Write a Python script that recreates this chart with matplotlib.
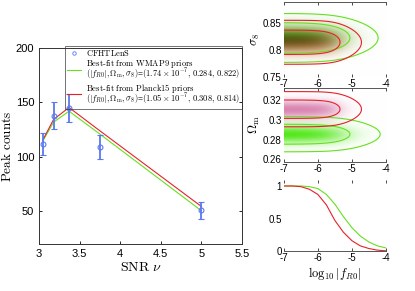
import numpy as np
import matplotlib
matplotlib.use("Agg")
import matplotlib.pyplot as plt
from matplotlib.lines import Line2D

plt.rcParams['mathtext.fontset'] = 'cm'
plt.rcParams['font.family'] = ['Liberation Sans', 'DejaVu Sans']

# --- peak counts (left panel) ---
snr_obs = [3.05, 3.18, 3.37, 3.75, 5.0]
peaks_obs = [112, 138, 145, 109, 51]
peaks_err = [10, 12, 13, 11, 7.5]

snr_model = [3.05, 3.18, 3.37, 3.75, 5.0]
peaks_wmap9 = [115, 132, 142, 121, 50.7]
peaks_planck15 = [116, 134.5, 145.4, 124, 54.6]

# --- 2D constraints ---
# per series: centre, outer half width, inner half width, outer nose, inner nose
s8_wmap9 = dict(centre=0.8225, half_out=0.0453, half_in=0.0284, nose_out=-4.23, nose_in=-5.06)
s8_planck = dict(centre=0.8145, half_out=0.0407, half_in=0.0225, nose_out=-4.72, nose_in=-5.35)
om_wmap9 = dict(centre=0.2854, half_out=0.0180, half_in=0.0102, nose_out=-4.17, nose_in=-5.06)
om_planck = dict(centre=0.3110, half_out=0.0180, half_in=0.0094, nose_out=-4.72, nose_in=-5.35)

# --- 1D marginal of log10|fR0| ---
logf = [-7, -6.75, -6.5, -6.25, -6, -5.75, -5.5, -5.25, -5, -4.75, -4.5, -4.25, -4]
like_wmap9 = [1.0, 1.0, 1.0, 0.99, 0.96, 0.87, 0.72, 0.53, 0.36, 0.23, 0.14, 0.08, 0.05]
like_planck = [1.0, 1.0, 0.99, 0.95, 0.87, 0.71, 0.47, 0.29, 0.16, 0.08, 0.04, 0.015, 0.005]

GREEN = '#66e020'
RED = '#e8202a'
BLUE = '#5a78f0'


def posterior(p, X, Y):
    # gaussian in y times a smooth cut-off in x, tuned to the read contour sizes
    sig = p['half_out'] / 2.45
    c_out = np.exp(-p['half_out'] ** 2 / (2 * sig ** 2))
    c_in = np.exp(-p['half_in'] ** 2 / (2 * sig ** 2))
    k_out, k_in = np.log(1 / c_out - 1), np.log(1 / c_in - 1)
    s = (p['nose_out'] - p['nose_in']) / (k_out - k_in)
    x0 = p['nose_in'] - k_in * s
    P = np.exp(-(Y - p['centre']) ** 2 / (2 * sig ** 2)) / (1 + np.exp((X - x0) / s))
    return P, [c_out, c_in]


def panel(ax, pg, pr, ylim, red_rgb, green_rgb):
    x = np.linspace(-7, -4, 300)
    y = np.linspace(ylim[0], ylim[1], 200)
    X, Y = np.meshgrid(x, y)
    Pg, lev_g = posterior(pg, X, Y)
    Pr, lev_r = posterior(pr, X, Y)
    img = np.ones(X.shape + (3,))
    for P, rgb, amax in ((Pg, green_rgb, 0.9), (Pr, red_rgb, 0.8)):
        a = (amax * P ** 1.3)[..., None]
        img = img * (1 - a * (1 - np.array(rgb)))
    ax.imshow(img, extent=(-7, -4, ylim[0], ylim[1]), origin='lower',
              aspect='auto', interpolation='bilinear')
    ax.contour(X, Y, Pg, levels=lev_g, colors=GREEN, linewidths=0.8)
    ax.contour(X, Y, Pr, levels=lev_r, colors=RED, linewidths=0.8)
    ax.set_xlim(-7, -4)
    ax.set_ylim(*ylim)


fig = plt.figure(figsize=(4.15, 2.91), dpi=100)

# left panel
ax = fig.add_axes([0.094, 0.161, 0.489, 0.674])
ax.errorbar(snr_obs, peaks_obs, yerr=peaks_err, fmt='o', mfc='none', mec=BLUE,
            ms=3.5, mew=0.8, ecolor=BLUE, elinewidth=1.3, capsize=2, capthick=0.8,
            zorder=4)
lw9, = ax.plot(snr_model, peaks_wmap9, color=GREEN, lw=0.8)
lp15, = ax.plot(snr_model, peaks_planck15, color=RED, lw=0.8)
ax.set_xlim(3, 5.5)
ax.set_ylim(20, 200)
ax.set_xticks([3, 3.5, 4, 4.5, 5, 5.5])
ax.set_xticklabels(['3', '3.5', '4', '4.5', '5', '5.5'])
ax.set_yticks([50, 100, 150, 200])
ax.tick_params(direction='in', length=2.5, width=0.6, labelsize=8, top=False, right=True)
for sp in ax.spines.values():
    sp.set_linewidth(0.7)
    sp.set_color('#333333')
ax.set_xlabel(r'$\mathrm{SNR}\ \nu$', fontsize=10, labelpad=1)
ax.set_ylabel(r'$\mathrm{Peak\ counts}$', fontsize=9.5, labelpad=1)

obs_handle = Line2D([], [], ls='none', marker='o', ms=2.5, mfc='none', mec=BLUE, mew=0.6)
leg = ax.legend(
    [obs_handle, lw9, lp15],
    [r'$\mathrm{CFHTLenS}$',
     '$\\mathrm{Best\\text{-}fit\\ from\\ WMAP9\\ priors}$\n'
     r'$(|f_{R0}|,\Omega_{\rm m},\sigma_8)$=$(1.74\times10^{-7},\,0.284,\,0.822)$',
     '$\\mathrm{Best\\text{-}fit\\ from\\ Planck15\\ priors}$\n'
     r'$(|f_{R0}|,\Omega_{\rm m},\sigma_8)$=$(1.05\times10^{-7},\,0.308,\,0.814)$'],
    loc='upper right', fontsize=6.1, frameon=True, fancybox=False,
    borderaxespad=0, handlelength=1.7, handletextpad=0.5,
    labelspacing=0.0, borderpad=0.25, bbox_to_anchor=(1.0, 1.01))
leg.get_frame().set_edgecolor('#333333')
leg.get_frame().set_linewidth(0.6)
leg.get_frame().set_facecolor('none')
for t in leg.get_texts():
    t.set_linespacing(0.7)

# right panels
ax1 = fig.add_axes([0.684, 0.735, 0.246, 0.258])
panel(ax1, s8_wmap9, s8_planck, (0.75, 0.889), (0.95, 0.28, 0.22), (0.25, 0.75, 0.05))
ax1.set_yticks([0.75, 0.8, 0.85])
ax1.set_yticklabels(['0.75', '0.8', '0.85'])
ax1.set_ylabel(r'$\sigma_8$', fontsize=9, labelpad=1)

ax2 = fig.add_axes([0.684, 0.444, 0.246, 0.254])
panel(ax2, om_wmap9, om_planck, (0.2572, 0.3328), (0.82, 0.40, 0.62), (0.25, 0.9, 0.0))
ax2.set_yticks([0.26, 0.28, 0.3, 0.32])
ax2.set_yticklabels(['0.26', '0.28', '0.3', '0.32'])
ax2.set_ylabel(r'$\Omega_{\rm m}$', fontsize=9, labelpad=1)

ax3 = fig.add_axes([0.684, 0.137, 0.246, 0.244])
ax3.plot(logf, like_wmap9, color=GREEN, lw=0.8)
ax3.plot(logf, like_planck, color=RED, lw=0.8)
ax3.set_xlim(-7, -4)
ax3.set_ylim(0, 1.09)
ax3.set_yticks([0, 0.5, 1])
ax3.set_yticklabels(['0', '0.5', '1'])
ax3.set_xlabel(r'$\log_{10}|f_{R0}|$', fontsize=9, labelpad=1)

for a, spines in ((ax1, ['top']), (ax2, ['top', 'bottom']), (ax3, ['bottom'])):
    for name, sp in a.spines.items():
        sp.set_visible(name in spines)
        sp.set_color('#555555')
        sp.set_linewidth(0.7)
    a.set_xticks([-7, -6, -5, -4])
    a.set_xticklabels(['-7', '-6', '-5', '-4'])
    a.tick_params(direction='in', length=2, width=0.5, labelsize=7, pad=1.5,
                  left=False, top=True)

fig.savefig('out.png', dpi=100)
